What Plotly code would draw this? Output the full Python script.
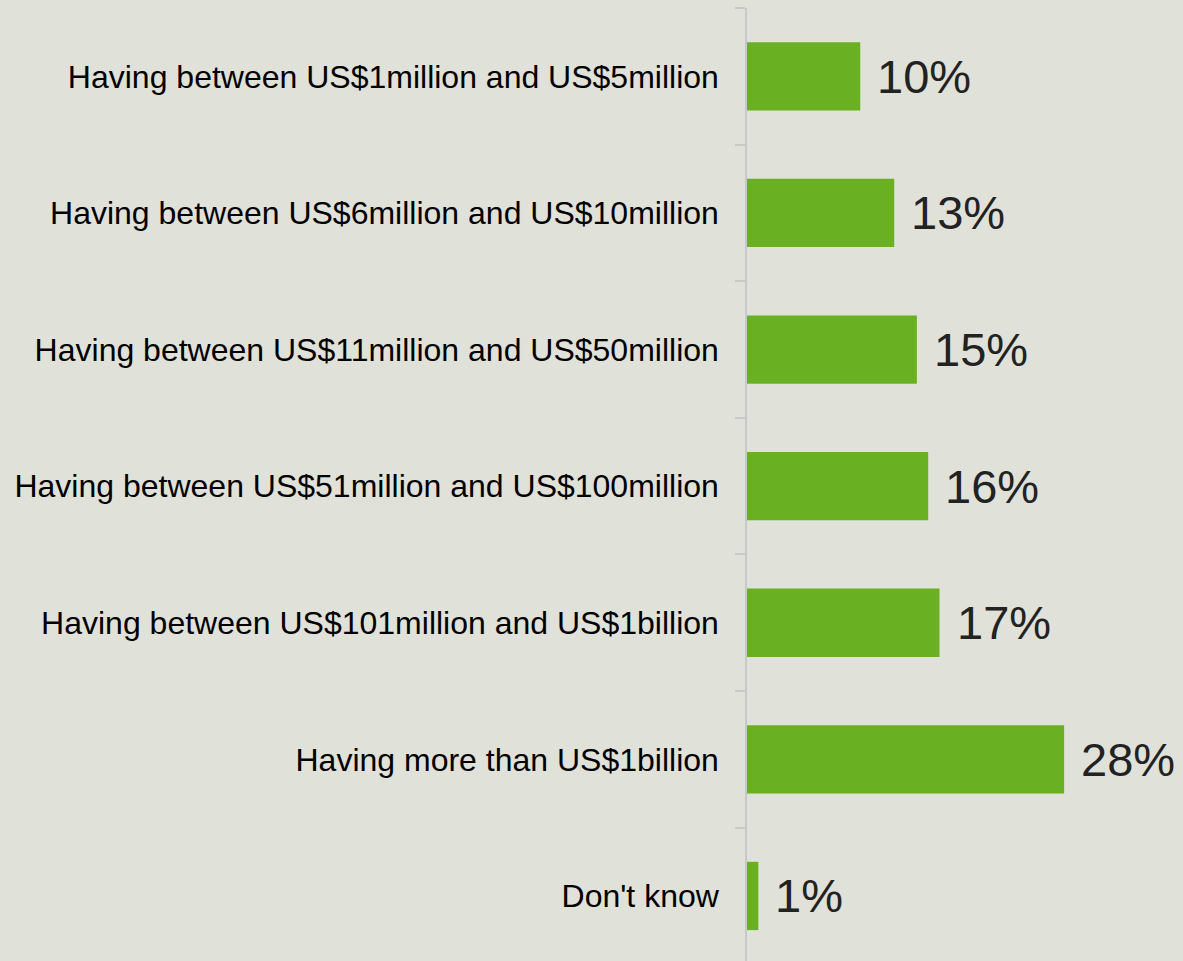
import plotly.graph_objects as go

categories = [
    "Having between US$1million and US$5million",
    "Having between US$6million and US$10million",
    "Having between US$11million and US$50million",
    "Having between US$51million and US$100million",
    "Having between US$101million and US$1billion",
    "Having more than US$1billion",
    "Don't know",
]
values = [10, 13, 15, 16, 17, 28, 1]
value_labels = ["10%", "13%", "15%", "16%", "17%", "28%", "1%"]

BG = "#E0E1D9"
GREEN = "#6AB023"
FONT = "Liberation Sans, Arial, sans-serif"

fig = go.Figure()
fig.add_trace(go.Bar(
    x=values, y=categories, orientation="h",
    marker=dict(color=GREEN, line=dict(width=0)),
    width=0.5, hoverinfo="skip",
))

for c, v, t in zip(categories, values, value_labels):
    fig.add_annotation(
        x=v, y=c, text=t, showarrow=False, xanchor="left", yanchor="middle",
        xshift=15, font=dict(family=FONT, size=47, color="#222222"),
    )

fig.update_layout(
    width=1183, height=961,
    margin=dict(l=747, r=0, t=8, b=0),
    paper_bgcolor=BG, plot_bgcolor=BG,
    showlegend=False,
    font=dict(family=FONT, color="#000000"),
)
fig.update_xaxes(
    range=[0, 38.5], visible=False, showgrid=False, zeroline=False,
)
fig.update_yaxes(
    type="category",
    categoryorder="array", categoryarray=categories,
    range=[6.476, -0.5],
    showline=True, linecolor="#C8C8C8", linewidth=1.5,
    ticks="outside", tickson="boundaries", ticklen=10, tickcolor="#C8C8C8", tickwidth=1.5,
    showgrid=False, zeroline=False,
    tickfont=dict(family=FONT, size=32, color="#000000"),
    ticklabelstandoff=20,
)

fig.write_html(
    "out.html",
    config={"displayModeBar": False},
    post_script="document.body.style.margin='0px';document.body.style.padding='0px';document.body.style.background='" + BG + "';",
)
